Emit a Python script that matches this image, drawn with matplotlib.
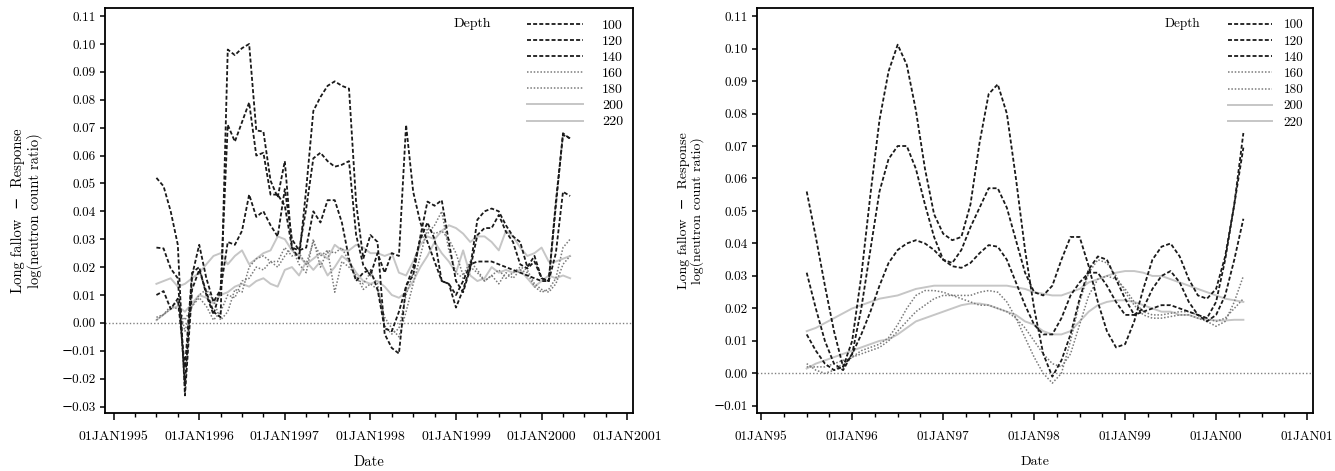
import numpy as np
import pandas as pd
import matplotlib
matplotlib.use('Agg')
import matplotlib.pyplot as plt

plt.rcParams['font.family'] = ['cmr10', 'DejaVu Serif']
plt.rcParams['axes.unicode_minus'] = True

depths = ['100', '120', '140', '160', '180', '200', '220']

# left panel: monthly observations Jul 1995 - May 2000
raw_dates = pd.date_range('1995-07-01', '2000-05-01', freq='MS')
raw_100 = [0.052, 0.049, 0.040, 0.028, -0.026, 0.012, 0.019, 0.011, 0.004, 0.002,
           0.098, 0.096, 0.0985, 0.100, 0.069, 0.0686, 0.051, 0.045, 0.058, 0.027,
           0.023, 0.048, 0.076, 0.081, 0.085, 0.0866, 0.085, 0.084, 0.043, 0.023,
           0.0315, 0.029, -0.004, -0.009, -0.011, 0.0135, 0.017, 0.031, 0.0435, 0.042,
           0.044, 0.029, 0.015, 0.011, 0.0195, 0.0315, 0.034, 0.034, 0.0387, 0.0327,
           0.029, 0.021, 0.0195, 0.022, 0.016, 0.015, 0.0435, 0.0674, 0.0662]
raw_120 = [0.027, 0.0267, 0.0195, 0.016, -0.0224, 0.017, 0.028, 0.016, 0.0075, 0.012,
           0.071, 0.065, 0.072, 0.079, 0.060, 0.061, 0.046, 0.046, 0.042, 0.027,
           0.026, 0.041, 0.059, 0.061, 0.058, 0.056, 0.0567, 0.058, 0.0315, 0.0207,
           0.017, 0.025, 0.018, 0.025, 0.024, 0.071, 0.047, 0.036, 0.029, 0.022,
           0.015, 0.014, 0.0055, 0.012, 0.020, 0.037, 0.040, 0.041, 0.040, 0.035,
           0.031, 0.029, 0.020, 0.024, 0.016, 0.015, 0.042, 0.068, 0.066]
raw_140 = [0.010, 0.0114, 0.005, 0.0087, -0.016, 0.018, 0.020, 0.010, 0.003, 0.012,
           0.029, 0.028, 0.033, 0.046, 0.038, 0.040, 0.035, 0.031, 0.048, 0.030,
           0.026, 0.027, 0.040, 0.036, 0.044, 0.044, 0.036, 0.023, 0.015, 0.018,
           0.019, 0.012, -0.002, -0.003, 0.004, 0.013, 0.020, 0.030, 0.036, 0.030,
           0.015, 0.014, 0.010, 0.015, 0.021, 0.022, 0.022, 0.022, 0.021, 0.020,
           0.019, 0.018, 0.017, 0.016, 0.015, 0.015, 0.025, 0.047, 0.0455]
raw_160 = [0.001, 0.003, 0.005, 0.008, -0.003, 0.006, 0.010, 0.012, 0.008, 0.001,
           0.004, 0.012, 0.011, 0.020, 0.023, 0.024, 0.022, 0.022, 0.027, 0.024,
           0.025, 0.021, 0.029, 0.024, 0.026, 0.025, 0.027, 0.022, 0.016, 0.014,
           0.018, 0.014, -0.001, -0.004, -0.002, 0.010, 0.018, 0.030, 0.032, 0.035,
           0.040, 0.026, 0.018, 0.016, 0.020, 0.018, 0.015, 0.017, 0.014, 0.018,
           0.016, 0.019, 0.018, 0.013, 0.011, 0.012, 0.016, 0.027, 0.030]
raw_180 = [0.002, 0.003, 0.006, 0.005, 0.001, 0.006, 0.009, 0.006, 0.001, 0.004,
           0.010, 0.009, 0.015, 0.016, 0.020, 0.019, 0.022, 0.020, 0.024, 0.027,
           0.021, 0.018, 0.030, 0.020, 0.026, 0.011, 0.022, 0.020, 0.017, 0.012,
           0.014, 0.012, 0.002, -0.002, -0.005, 0.004, 0.014, 0.024, 0.034, 0.032,
           0.033, 0.030, 0.025, 0.017, 0.022, 0.019, 0.015, 0.017, 0.019, 0.016,
           0.018, 0.020, 0.019, 0.014, 0.012, 0.011, 0.014, 0.021, 0.024]
raw_200 = [0.014, 0.015, 0.016, 0.013, 0.014, 0.016, 0.018, 0.021, 0.024, 0.025,
           0.021, 0.024, 0.026, 0.021, 0.023, 0.025, 0.026, 0.031, 0.030, 0.026,
           0.024, 0.021, 0.023, 0.025, 0.023, 0.028, 0.026, 0.026, 0.028, 0.027,
           0.025, 0.025, 0.024, 0.025, 0.018, 0.017, 0.022, 0.028, 0.031, 0.030,
           0.033, 0.035, 0.034, 0.032, 0.029, 0.031, 0.031, 0.029, 0.026, 0.033,
           0.031, 0.027, 0.024, 0.025, 0.027, 0.022, 0.022, 0.023, 0.024]
raw_220 = [0.001, 0.003, 0.005, 0.006, 0.004, 0.007, 0.010, 0.009, 0.007, 0.010,
           0.011, 0.013, 0.014, 0.013, 0.015, 0.016, 0.014, 0.013, 0.019, 0.020,
           0.017, 0.022, 0.019, 0.022, 0.017, 0.020, 0.024, 0.022, 0.018, 0.015,
           0.014, 0.015, 0.013, 0.010, 0.009, 0.011, 0.015, 0.020, 0.024, 0.029,
           0.025, 0.022, 0.018, 0.026, 0.017, 0.015, 0.016, 0.020, 0.018, 0.019,
           0.018, 0.019, 0.016, 0.013, 0.015, 0.017, 0.016, 0.017, 0.016]

# right panel: smoothed curves read every 0.1 year, 1995.5 - 2000.3
smooth_years = np.round(np.arange(1995.5, 2000.35, 0.1), 1)
sm_100 = [0.056, 0.042, 0.027, 0.013, 0.002, 0.010, 0.030, 0.055, 0.078, 0.093,
          0.1012, 0.095, 0.081, 0.063, 0.049, 0.043, 0.041, 0.042, 0.052, 0.071,
          0.086, 0.089, 0.080, 0.060, 0.038, 0.020, 0.006, -0.001, 0.004, 0.012,
          0.023, 0.032, 0.036, 0.035, 0.029, 0.023, 0.018, 0.020, 0.026, 0.030,
          0.0315, 0.028, 0.022, 0.018, 0.017, 0.022, 0.035, 0.052, 0.074]
sm_120 = [0.031, 0.020, 0.010, 0.003, 0.001, 0.006, 0.020, 0.038, 0.056, 0.066,
          0.070, 0.070, 0.063, 0.052, 0.042, 0.035, 0.034, 0.038, 0.045, 0.051,
          0.057, 0.057, 0.051, 0.041, 0.031, 0.025, 0.024, 0.027, 0.035, 0.042,
          0.042, 0.033, 0.022, 0.013, 0.008, 0.009, 0.016, 0.026, 0.035, 0.039,
          0.040, 0.036, 0.029, 0.024, 0.023, 0.026, 0.036, 0.052, 0.0695]
sm_140 = [0.012, 0.007, 0.003, 0.001, 0.002, 0.006, 0.012, 0.019, 0.027, 0.034,
          0.038, 0.040, 0.041, 0.040, 0.038, 0.035, 0.033, 0.0325, 0.034, 0.037,
          0.0395, 0.039, 0.035, 0.028, 0.021, 0.015, 0.012, 0.012, 0.017, 0.024,
          0.028, 0.031, 0.031, 0.027, 0.022, 0.018, 0.018, 0.019, 0.020, 0.021,
          0.021, 0.020, 0.019, 0.018, 0.016, 0.018, 0.024, 0.035, 0.0476]
sm_160 = [0.003, 0.001, 0.000, 0.001, 0.003, 0.005, 0.007, 0.008, 0.009, 0.011,
          0.015, 0.020, 0.024, 0.0255, 0.0255, 0.025, 0.024, 0.024, 0.024, 0.025,
          0.0255, 0.025, 0.022, 0.017, 0.011, 0.005, 0.000, -0.003, 0.000, 0.010,
          0.022, 0.031, 0.035, 0.034, 0.030, 0.025, 0.021, 0.018, 0.017, 0.017,
          0.0175, 0.018, 0.018, 0.017, 0.016, 0.0145, 0.016, 0.022, 0.030]
sm_180 = [0.002, 0.002, 0.002, 0.003, 0.004, 0.005, 0.006, 0.007, 0.008, 0.010,
          0.013, 0.016, 0.019, 0.021, 0.023, 0.024, 0.024, 0.023, 0.022, 0.021,
          0.021, 0.020, 0.019, 0.017, 0.014, 0.010, 0.006, 0.003, 0.002, 0.006,
          0.015, 0.024, 0.029, 0.030, 0.029, 0.026, 0.022, 0.019, 0.018, 0.018,
          0.0185, 0.019, 0.019, 0.018, 0.017, 0.016, 0.017, 0.020, 0.023]
sm_200 = [0.013, 0.014, 0.0155, 0.017, 0.0185, 0.020, 0.021, 0.022, 0.023, 0.0235,
          0.024, 0.025, 0.026, 0.0265, 0.027, 0.027, 0.027, 0.027, 0.027, 0.027,
          0.027, 0.027, 0.027, 0.0265, 0.026, 0.025, 0.0245, 0.024, 0.024, 0.025,
          0.026, 0.028, 0.029, 0.030, 0.031, 0.0315, 0.0315, 0.031, 0.030, 0.030,
          0.029, 0.028, 0.027, 0.026, 0.025, 0.024, 0.023, 0.0225, 0.022]
sm_220 = [0.0015, 0.003, 0.004, 0.005, 0.006, 0.007, 0.008, 0.009, 0.010, 0.0105,
          0.012, 0.014, 0.016, 0.017, 0.018, 0.019, 0.020, 0.021, 0.0215, 0.0215,
          0.021, 0.020, 0.019, 0.018, 0.016, 0.015, 0.013, 0.012, 0.012, 0.013,
          0.016, 0.019, 0.021, 0.022, 0.0225, 0.0225, 0.022, 0.021, 0.020, 0.019,
          0.019, 0.018, 0.018, 0.017, 0.0165, 0.0163, 0.0163, 0.0165, 0.0165]

raw_series = [raw_100, raw_120, raw_140, raw_160, raw_180, raw_200, raw_220]
smooth_series = [sm_100, sm_120, sm_140, sm_160, sm_180, sm_200, sm_220]

raw_years = raw_dates.year + (raw_dates.month - 1) / 12.0

dash = (0, (2.2, 1.2))
dot = (0, (1, 1.2))
styles = [
    dict(color='#1a1a1a', ls=dash, lw=1.3, zorder=4),
    dict(color='#1a1a1a', ls=dash, lw=1.3, zorder=4),
    dict(color='#1a1a1a', ls=dash, lw=1.3, zorder=4),
    dict(color='#7a7a7a', ls=dot, lw=1.1, zorder=3),
    dict(color='#7a7a7a', ls=dot, lw=1.1, zorder=3),
    dict(color='#c6c6c6', ls='-', lw=1.4, zorder=2),
    dict(color='#c6c6c6', ls='-', lw=1.4, zorder=2),
]

fig = plt.figure(figsize=(13.35, 4.71), dpi=100)
ax1 = fig.add_axes([0.0787, 0.1238, 0.3952, 0.8586])
ax2 = fig.add_axes([0.567, 0.1238, 0.4165, 0.8586])


def style_axes(ax, years_fmt, ylo, yhi, xlim, ylim, fs_x, fs_y):
    ax.axhline(0, color='#808080', ls=(0, (1, 1.5)), lw=1.0, zorder=1)
    yrs = list(range(1995, 2002))
    ax.set_xticks(yrs, labels=[years_fmt(y) for y in yrs], fontsize=fs_x)
    ax.set_xticks(np.arange(1995, 2001.01, 0.25), minor=True)
    hund = list(range(ylo, yhi + 1))
    ax.set_yticks([h / 100 for h in hund],
                  labels=[('−' if h < 0 else '') + '0.%02d' % abs(h) for h in hund],
                  fontsize=fs_y)
    ax.set_xlim(*xlim)
    ax.set_ylim(*ylim)
    ax.tick_params(axis='x', which='major', length=5, width=1.1, pad=8)
    ax.tick_params(axis='x', which='minor', length=3, width=1.0)
    ax.tick_params(axis='y', length=3.5, width=1.1, pad=3)
    for s in ax.spines.values():
        s.set_linewidth(1.3)


for vals, st, d in zip(raw_series, styles, depths):
    ax1.plot(raw_years, vals, label=d, **st)
for vals, st, d in zip(smooth_series, styles, depths):
    ax2.plot(smooth_years, vals, label=d, **st)

style_axes(ax1, lambda y: '01JAN%d' % y, -3, 11, (1994.90, 2001.064), (-0.0322, 0.1128), 10, 9.5)
style_axes(ax2, lambda y: '01JAN%02d' % (y % 100), -1, 11, (1994.953, 2001.065), (-0.0121, 0.1124), 9.5, 9.5)

ylabel = 'Long fallow  −  Response\nlog(neutron count ratio)'
fig.text(27 / 1335, 0.553, ylabel, rotation=90, ha='center', va='center',
         multialignment='center', fontsize=10.5, linespacing=1.1)
fig.text(691 / 1335, 0.553, ylabel, rotation=90, ha='center', va='center',
         multialignment='center', fontsize=10, linespacing=1.1)
fig.text(0.2763, 0.019, 'Date', ha='center', va='center', fontsize=10.5)
fig.text(0.7753, 0.019, 'Date', ha='center', va='center', fontsize=10)

ax1.legend(loc='upper right', bbox_to_anchor=(0.99, 0.983), frameon=False, fontsize=10,
           handlelength=4.0, handletextpad=1.4, labelspacing=0.24, borderaxespad=0,
           borderpad=0.3)
ax1.text(0.696, 0.961, 'Depth', transform=ax1.transAxes, ha='center', va='center', fontsize=10)
ax2.legend(loc='upper right', bbox_to_anchor=(0.99, 0.983), frameon=False, fontsize=9.5,
           handlelength=3.3, handletextpad=0.9, labelspacing=0.3, borderaxespad=0,
           borderpad=0.3)
ax2.text(0.766, 0.961, 'Depth', transform=ax2.transAxes, ha='center', va='center', fontsize=9.5)

fig.savefig('out.png', dpi=100)
